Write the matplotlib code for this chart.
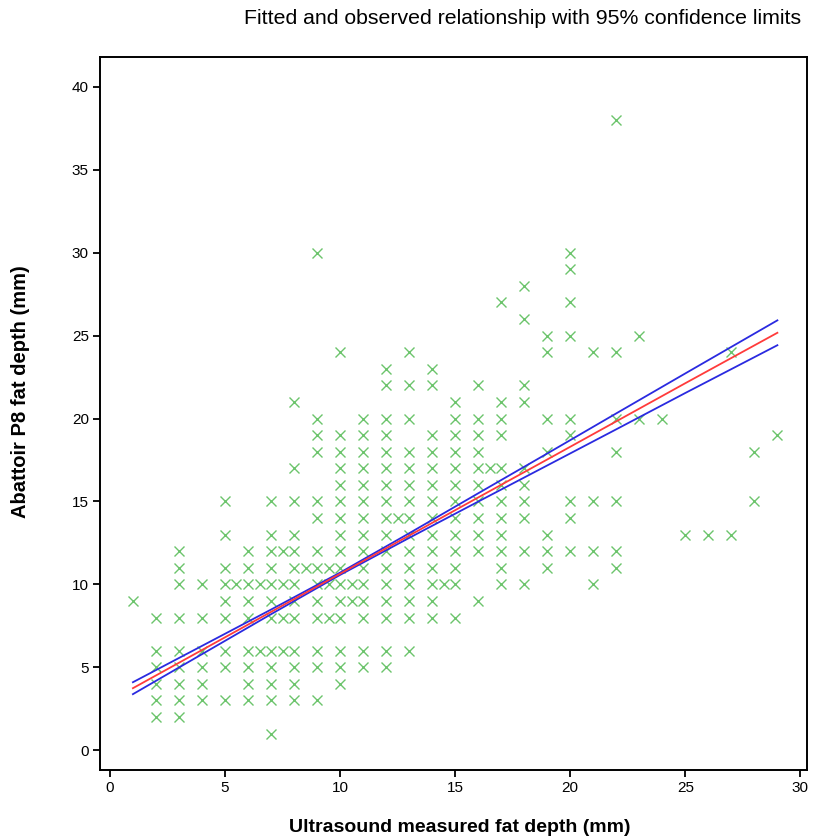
import matplotlib
matplotlib.use("Agg")
import matplotlib.pyplot as plt
import numpy as np

# observed points, grouped by ultrasound depth (x); each list holds the abattoir depths (y) seen at that x
us_x = [1, 2, 3, 4, 5, 5.5, 6, 6.5, 7, 7.5, 8, 8.5, 9, 9.5, 10, 10.5, 11, 12, 12.5,
        13, 14, 14.5, 15, 16, 16.5, 17, 18, 19, 20, 21, 22, 23, 24, 25, 26, 27, 28, 29]
p8_y = [
    [9],
    [8, 6, 5, 4, 3, 2],
    [12, 11, 10, 8, 6, 5, 4, 3, 2],
    [10, 8, 6, 5, 4, 3],
    [15, 13, 11, 10, 9, 8, 6, 5, 3],
    [10],
    [12, 11, 10, 9, 8, 6, 5, 4, 3],
    [10, 6],
    [15, 13, 12, 11, 10, 9, 8, 6, 5, 4, 3, 1],
    [12, 10, 8, 6],
    [21, 17, 15, 13, 12, 11, 10, 9, 8, 6, 5, 4, 3],
    [11],
    [30, 20, 19, 18, 15, 14, 12, 11, 10, 9, 8, 6, 5, 3],
    [11, 10, 8],
    [24, 19, 18, 17, 16, 15, 14, 13, 12, 11, 10, 9, 8, 6, 5, 4],
    [10, 9],
    [20, 19, 18, 17, 16, 15, 14, 13, 12, 11, 10, 9, 8, 6, 5],
    [23, 22, 20, 19, 18, 17, 16, 15, 14, 13, 12, 11, 10, 9, 8, 6, 5],
    [14],
    [24, 22, 20, 18, 17, 16, 15, 14, 13, 12, 11, 10, 9, 8, 6],
    [23, 22, 19, 18, 17, 16, 15, 14, 13, 12, 11, 10, 9, 8],
    [10],
    [21, 20, 19, 18, 17, 16, 15, 14, 13, 12, 11, 10, 8],
    [22, 20, 19, 18, 17, 16, 15, 14, 13, 12, 9],
    [17],
    [27, 21, 20, 19, 17, 16, 15, 14, 13, 12, 11, 10],
    [28, 26, 22, 21, 17, 16, 15, 14, 12, 10],
    [25, 24, 20, 18, 13, 12, 11],
    [30, 29, 27, 25, 20, 19, 15, 14, 12],
    [24, 15, 12, 10],
    [38, 24, 20, 18, 15, 12, 11],
    [25, 20],
    [20],
    [13],
    [13],
    [24, 13],
    [18, 15],
    [19],
]

# fitted line and 95% limits
fit_x = [1, 4, 7, 10, 13, 16, 19, 22, 25, 29]
fit_y = [3.74, 6.04, 8.34, 10.64, 12.94, 15.24, 17.53, 19.83, 22.13, 25.17]
upper_y = [4.10, 6.29, 8.48, 10.71, 13.08, 15.49, 17.89, 20.31, 22.72, 25.92]
lower_y = [3.38, 5.79, 8.20, 10.57, 12.80, 14.99, 17.17, 19.35, 21.54, 24.42]

# flatten the grouped points
xs = []
ys = []
for x, col in zip(us_x, p8_y):
    for y in col:
        xs.append(x)
        ys.append(y)

plt.rcParams['font.family'] = ['Liberation Sans', 'DejaVu Sans']

fig = plt.figure(figsize=(8.13, 8.38), dpi=100)
ax = fig.add_axes([0.123, 0.081, 0.870, 0.851])

ax.plot(xs, ys, linestyle='none', marker='x', color='#6cc46c', markersize=6.5, markeredgewidth=1.0)
ax.plot(fit_x, upper_y, color='#2a2ae0', linewidth=1.3)
ax.plot(fit_x, lower_y, color='#2a2ae0', linewidth=1.3)
ax.plot(fit_x, fit_y, color='#ff3b3b', linewidth=1.3)

ax.set_xlim(-0.43, 30.3)
ax.set_ylim(-1.2, 41.8)
ax.set_xticks(np.arange(0, 31, 5))
ax.set_yticks(np.arange(0, 41, 5))
ax.tick_params(direction='out', length=5, width=1.3, labelsize=11, pad=3, top=False, right=False)

for s in ax.spines.values():
    s.set_linewidth(1.4)
    s.set_color('black')

# axis titles and chart title placed by hand to match the original layout
fig.text(0.565, 0.013, "Ultrasound measured fat depth (mm)", ha='center', va='center',
         fontsize=14, fontweight='bold')
fig.text(0.025, 0.533, "Abattoir P8 fat depth (mm)", ha='center', va='center',
         rotation=90, fontsize=14.5, fontweight='bold')
fig.text(0.643, 0.978, "Fitted and observed relationship with 95% confidence limits",
         ha='center', va='center', fontsize=15.3)

fig.savefig("out.png", dpi=100)
